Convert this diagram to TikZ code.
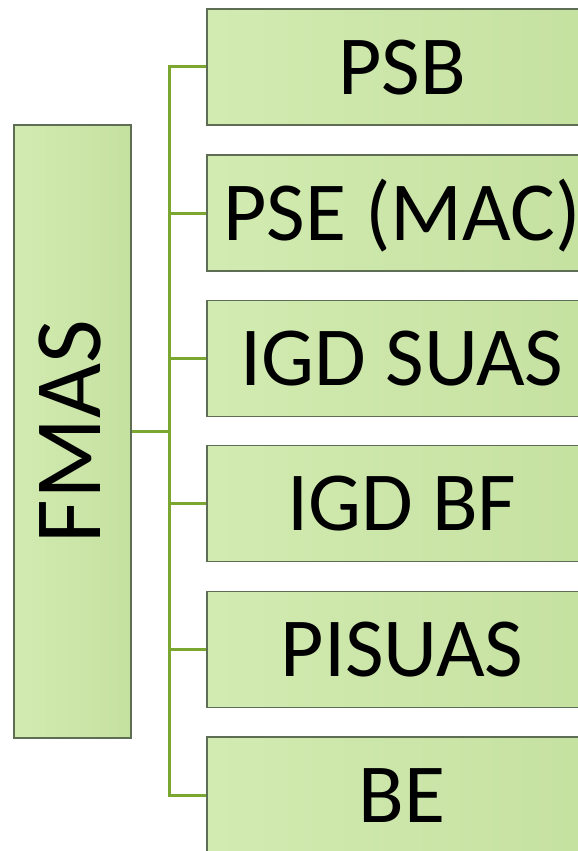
\documentclass[tikz,border=0pt]{standalone}
\usepackage{fontspec}
\setmainfont{Carlito}
\definecolor{boxfillL}{HTML}{D2EBB1}
\definecolor{boxfillR}{HTML}{C5E1A0}
\definecolor{boxline}{HTML}{5E6E55}
\definecolor{linkgreen}{HTML}{7BA62F}
\tikzset{
  gbox/.style={draw=boxline, line width=1.2pt, left color=boxfillL, right color=boxfillR,
    minimum width=390pt, minimum height=116pt, inner sep=0pt,
    font=\fontsize{84}{84}\selectfont, text height=54pt, text depth=0pt},
  rootbox/.style={draw=boxline, line width=1.2pt, left color=boxfillL, right color=boxfillR,
    minimum width=117pt, minimum height=613pt, inner sep=0pt},
  link/.style={draw=linkgreen, line width=3pt}
}
\begin{document}
\begin{tikzpicture}[x=1pt,y=-1pt]
\useasboundingbox (0,0) rectangle (578,851);
\clip (0,0) rectangle (578,851);
\node[rootbox] (root) at (72.5,431.5) {};
\node[rotate=90, font=\fontsize{95}{95}\selectfont, text height=61pt, text depth=0pt, inner sep=0pt] (rootlabel) at (69.5,431.5) {FMAS};
\node[gbox] (c1) at (402,67) {PSB};
\node[gbox] (c2) at (402,213) {PSE (MAC)};
\node[gbox] (c3) at (402,358.5) {IGD SUAS};
\node[gbox] (c4) at (402,503.5) {IGD BF};
\node[gbox] (c5) at (402,649.5) {PISUAS};
\node[gbox] (c6) at (402,795) {BE};
\coordinate (sp) at (169,431.5);
\draw[link] (root.east) -- (sp);
\draw[link] (c1.west) -| (sp);
\draw[link] (c6.west) -| (sp);
\foreach \i in {2,3,4,5} {
  \draw[link] (c\i.west) -- (c\i.west -| sp);
}
\end{tikzpicture}
\end{document}
